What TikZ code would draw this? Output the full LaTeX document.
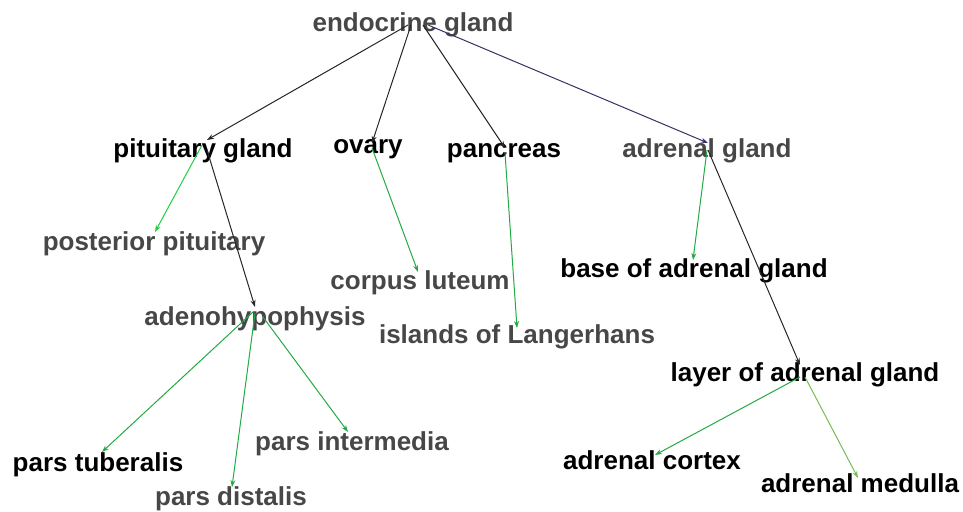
\documentclass[tikz,border=0pt]{standalone}
\usepackage{fontspec}
\setmainfont{Liberation Sans}
\usetikzlibrary{calc,arrows.meta}
\definecolor{txtgray}{HTML}{474747}
\definecolor{edgegreen}{HTML}{22AA44}
\definecolor{edgebright}{HTML}{22CC44}
\definecolor{edgeolive}{HTML}{77BB55}
\definecolor{edgenavy}{HTML}{333366}
\tikzset{
  lbl/.style={inner sep=0pt, font=\fontsize{26}{30}\selectfont\bfseries, text height=22pt, text depth=2.4pt},
  gl/.style={lbl, text=txtgray},
  bl/.style={lbl, text=black},
  edge/.style={line width=1pt, -{Stealth[length=7pt,width=5pt]}},
  blk/.style={edge, draw=black!85},
  grn/.style={edge, draw=edgegreen},
}
\begin{document}
\begin{tikzpicture}[x=1pt,y=-1pt]
\useasboundingbox (0,0) rectangle (963,511);
\node[gl] (endo) at (413,22) {endocrine gland};
\node[bl] (pit) at (203,148) {pituitary gland};
\node[bl] (ova) at (368,144) {ovary};
\node[bl] (pan) at (504,148) {pancreas};
\node[gl] (adr) at (707,148) {adrenal gland};
\node[gl] (post) at (154,241) {posterior pituitary};
\node[gl] (corp) at (420,280) {corpus luteum};
\node[bl] (base) at (694,268) {base of adrenal gland};
\node[gl] (adeno) at (255,316) {adenohypophysis};
\node[gl] (isl) at (517,334) {islands of Langerhans};
\node[bl] (layer) at (805,372) {layer of adrenal gland};
\node[gl] (inter) at (352,441) {pars intermedia};
\node[bl] (tub) at (98,462) {pars tuberalis};
\node[bl] (cort) at (652,460) {adrenal cortex};
\node[gl] (dist) at (231,496) {pars distalis};
\node[bl] (med) at (860,483) {adrenal medulla};

\draw[blk] ($(endo.center)+(-5,3)$) -- ($(pit.center)+(4,-8)$);
\draw[blk] ($(endo.center)+(-2,3)$) -- ($(ova.center)+(4,-1)$);
\draw[blk] ($(endo.center)+(10,3)$) -- ($(pan.center)+(1,0)$);
\draw[edge, draw=edgenavy] ($(endo.center)+(15,3)$) -- ($(adr.center)+(1,-5)$);

\draw[edge, draw=edgebright] ($(pit.center)+(-1,-3)$) -- ($(post.center)+(1,-9)$);
\draw[blk] ($(pit.center)+(4,2)$) -- ($(adeno.center)+(0,-9)$);

\draw[grn] ($(ova.center)+(4,4)$) -- ($(corp.center)+(-2,-8)$);
\draw[grn] ($(pan.center)+(1,5)$) -- ($(isl.center)+(0,-6)$);

\draw[grn] ($(adr.center)+(0,2)$) -- ($(base.center)+(-1,-8)$);
\draw[blk] ($(adr.center)+(1,2)$) -- ($(layer.center)+(-5,-7)$);

\draw[grn] ($(adeno.center)+(-2,-4)$) -- ($(tub.center)+(4,-10)$);
\draw[grn] ($(adeno.center)+(0,-3)$) -- ($(dist.center)+(1,-9)$);
\draw[grn] ($(adeno.center)+(8,1)$) -- ($(inter.center)+(-4,-9)$);

\draw[grn] ($(layer.center)+(-5,5)$) -- ($(cort.center)+(3,-5)$);
\draw[edge, draw=edgeolive] ($(layer.center)+(0,5)$) -- ($(med.center)+(-2,-5)$);
\end{tikzpicture}
\end{document}
